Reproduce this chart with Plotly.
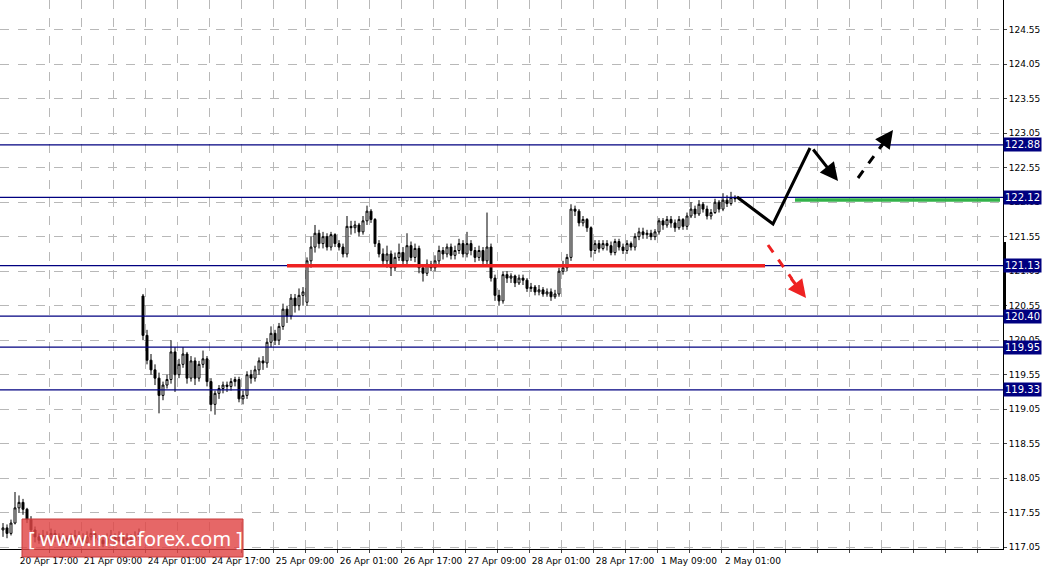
import plotly.graph_objects as go

# hourly bars, USD/JPY-like quotes
opens = [117.30,117.33,117.25,117.40,117.62,117.70,117.60,117.45,117.30,117.20,
         117.15,117.22,117.18,117.25,117.20,117.12,117.18,117.10,117.15,117.22,
         117.18,117.12,117.20,117.25,117.18,117.15,117.10,117.18,117.22,117.15,
         117.20,117.12,117.18,117.14,117.20,
         120.69,120.12,119.76,119.62,119.50,119.25,119.40,119.48,119.88,119.55,
         119.70,119.85,119.50,119.75,119.50,119.70,119.78,119.45,119.12,119.28,
         119.35,119.40,119.38,119.45,119.48,119.20,119.25,119.55,119.50,119.62,
         119.75,119.72,120.02,120.15,120.05,120.25,120.50,120.40,120.66,120.55,
         120.70,120.60,121.20,121.40,121.60,121.45,121.55,121.40,121.58,121.45,
         121.40,121.30,121.70,121.68,121.72,121.62,121.78,121.92,121.80,121.45,
         121.30,121.20,121.30,121.10,121.25,121.32,121.20,121.42,121.25,121.38,
         121.10,121.02,121.15,121.10,121.20,121.35,121.30,121.40,121.28,121.35,
         121.45,121.30,121.45,121.35,121.25,121.35,121.20,121.40,120.95,120.70,
         120.62,121.00,120.95,120.98,120.88,120.95,120.92,120.80,120.82,120.75,
         120.78,120.72,120.75,120.68,120.72,121.05,121.10,121.25,121.95,121.92,
         121.75,121.80,121.68,121.35,121.45,121.38,121.45,121.42,121.32,121.48,
         121.40,121.35,121.45,121.40,121.55,121.62,121.58,121.60,121.55,121.62,
         121.78,121.72,121.80,121.75,121.68,121.80,121.70,121.85,121.95,121.88,
         122.02,121.95,121.85,121.90,122.05,121.95,122.08,122.03,122.12]
closes = [117.33,117.25,117.40,117.62,117.70,117.60,117.45,117.30,117.20,117.15,
          117.22,117.18,117.25,117.20,117.12,117.18,117.10,117.15,117.22,117.18,
          117.12,117.20,117.25,117.18,117.15,117.10,117.18,117.22,117.15,117.20,
          117.12,117.18,117.14,117.20,117.25,
          120.12,119.76,119.62,119.50,119.25,119.40,119.48,119.88,119.55,119.70,
          119.85,119.50,119.75,119.50,119.70,119.78,119.45,119.12,119.28,119.35,
          119.40,119.38,119.45,119.48,119.20,119.25,119.55,119.50,119.62,119.75,
          119.72,120.02,120.15,120.05,120.25,120.50,120.40,120.66,120.55,120.70,
          120.75,121.20,121.40,121.60,121.45,121.55,121.40,121.58,121.45,121.40,
          121.30,121.70,121.68,121.72,121.62,121.78,121.92,121.80,121.45,121.30,
          121.20,121.30,121.10,121.25,121.32,121.20,121.42,121.25,121.38,121.10,
          121.02,121.15,121.10,121.20,121.35,121.30,121.40,121.28,121.35,121.45,
          121.30,121.45,121.35,121.25,121.35,121.20,121.40,120.95,120.70,120.62,
          121.00,120.95,120.98,120.88,120.95,120.92,120.80,120.82,120.75,120.78,
          120.72,120.75,120.68,120.72,121.05,121.10,121.25,121.95,121.92,121.75,
          121.80,121.68,121.35,121.45,121.38,121.45,121.42,121.32,121.48,121.40,
          121.35,121.45,121.40,121.55,121.62,121.58,121.60,121.55,121.62,121.78,
          121.72,121.80,121.75,121.68,121.80,121.70,121.85,121.95,121.88,122.02,
          121.95,121.85,121.90,122.05,121.95,122.08,122.03,122.12,122.10]
highs = [117.40,117.38,117.45,117.85,117.80,117.75,117.62,117.50,117.35,117.25,
         117.30,117.28,117.32,117.30,117.25,117.25,117.22,117.25,117.30,117.28,
         117.25,117.28,117.32,117.28,117.22,117.20,117.25,117.30,117.25,117.28,
         117.25,117.25,117.24,117.28,117.32,
         120.72,120.20,119.85,119.70,119.58,119.45,119.55,120.05,119.95,119.78,
         119.95,119.88,119.82,119.80,119.75,119.90,119.82,119.50,119.32,119.40,
         119.45,119.45,119.50,119.52,119.52,119.32,119.60,119.62,119.68,119.80,
         119.82,120.08,120.25,120.20,120.30,120.58,120.55,120.72,120.72,120.80,
         120.82,121.25,121.55,121.72,121.65,121.62,121.60,121.62,121.60,121.50,
         121.45,121.85,121.78,121.78,121.75,121.85,122.00,121.95,121.82,121.50,
         121.38,121.42,121.35,121.32,121.45,121.40,121.60,121.48,121.45,121.42,
         121.15,121.22,121.20,121.28,121.42,121.40,121.45,121.45,121.42,121.52,
         121.50,121.62,121.50,121.40,121.42,121.40,121.90,121.45,121.00,120.78,
         121.05,121.05,121.02,121.00,121.00,121.00,120.95,120.88,120.85,120.85,
         120.82,120.80,120.80,120.78,121.10,121.20,121.30,122.02,122.00,121.95,
         121.85,121.82,121.70,121.50,121.50,121.50,121.50,121.48,121.52,121.52,
         121.45,121.50,121.48,121.60,121.68,121.68,121.65,121.65,121.66,121.82,
         121.82,121.85,121.85,121.80,121.85,121.82,121.90,122.05,122.00,122.08,
         122.05,122.00,121.95,122.10,122.08,122.18,122.15,122.20,122.15]
lows = [117.20,117.18,117.22,117.38,117.55,117.52,117.40,117.25,117.12,117.10,
        117.12,117.12,117.15,117.12,117.08,117.10,117.05,117.08,117.12,117.12,
        117.08,117.10,117.15,117.12,117.10,117.05,117.08,117.15,117.10,117.12,
        117.08,117.10,117.08,117.12,117.15,
        120.05,119.70,119.55,119.40,118.99,119.18,119.35,119.42,119.30,119.50,
        119.65,119.42,119.45,119.40,119.45,119.65,119.38,119.02,118.97,119.20,
        119.28,119.30,119.32,119.38,119.15,119.12,119.20,119.42,119.45,119.55,
        119.62,119.65,119.95,119.98,119.98,120.20,120.30,120.35,120.45,120.48,
        120.55,120.55,121.10,121.32,121.38,121.38,121.35,121.35,121.40,121.35,
        121.25,121.25,121.58,121.60,121.55,121.58,121.72,121.75,121.40,121.25,
        121.12,121.10,120.98,121.05,121.20,121.12,121.15,121.20,121.18,121.02,
        120.90,120.98,121.05,121.05,121.15,121.22,121.25,121.22,121.22,121.30,
        121.25,121.25,121.28,121.18,121.20,121.12,121.15,120.90,120.62,120.55,
        120.58,120.88,120.88,120.82,120.85,120.85,120.75,120.75,120.70,120.70,
        120.68,120.68,120.62,120.65,120.68,121.00,121.05,121.20,121.85,121.70,
        121.70,121.62,121.25,121.30,121.32,121.35,121.35,121.28,121.28,121.35,
        121.30,121.30,121.35,121.35,121.50,121.52,121.52,121.50,121.50,121.58,
        121.65,121.68,121.68,121.62,121.65,121.65,121.65,121.82,121.82,121.85,
        121.90,121.80,121.80,121.88,121.90,121.92,121.98,122.00,122.05]

levels = [122.88, 122.12, 121.13, 120.40, 119.95, 119.33]
price_ticks = [117.05, 117.55, 118.05, 118.55, 119.05, 119.55, 120.05, 120.55,
               121.05, 121.55, 122.05, 122.55, 123.05, 123.55, 124.05, 124.55]
time_labels = ["20 Apr 17:00", "21 Apr 09:00", "24 Apr 01:00", "24 Apr 17:00",
               "25 Apr 09:00", "26 Apr 01:00", "26 Apr 17:00", "27 Apr 09:00",
               "28 Apr 01:00", "28 Apr 17:00", "1 May 09:00", "2 May 01:00",
               "", "", "", ""]

bars = list(range(len(closes)))

def px(x):  # screen pixel -> bar units
    return (x - 3) / 4.0

def py(y):  # screen pixel -> price
    return 121.55 - (y - 236.7) / 69.0

fig = go.Figure()
fig.add_trace(go.Candlestick(
    x=bars, open=opens, high=highs, low=lows, close=closes,
    increasing=dict(fillcolor="white", line=dict(color="black", width=1)),
    decreasing=dict(fillcolor="black", line=dict(color="black", width=1)),
    whiskerwidth=0, showlegend=False, hoverinfo="skip"))

shapes = []
for lv in levels:
    shapes.append(dict(type="line", xref="paper", x0=0, x1=1, y0=lv, y1=lv,
                       line=dict(color="#000080", width=1.2)))
shapes.append(dict(type="line", x0=px(287), x1=px(765), y0=121.13, y1=121.13,
                   line=dict(color="#ee2222", width=3.5)))
shapes.append(dict(type="line", x0=px(795), x1=px(1000), y0=py(200), y1=py(200),
                   line=dict(color="#33b24a", width=3.5)))
shapes.append(dict(type="path", path="M %f,%f L %f,%f L %f,%f" % (
    px(737), py(197), px(773), py(224), px(810), py(148)),
    line=dict(color="black", width=3)))
# dashed shafts
shapes.append(dict(type="line", x0=px(858), y0=py(178), x1=px(882), y1=py(145),
                   line=dict(color="black", width=3, dash="dash")))
shapes.append(dict(type="line", x0=px(768), y0=py(245), x1=px(792), y1=py(279),
                   line=dict(color="#ee2222", width=3, dash="dash")))
shapes.append(dict(type="rect", xref="paper", x0=1.0, x1=1.003, y0=py(312), y1=py(242),
                   fillcolor="black", line=dict(width=0)))
shapes.append(dict(type="rect", xref="paper", yref="paper",
                   x0=22/1003, x1=243/1003, y0=1-557/549, y1=1-519/549,
                   fillcolor="rgba(224,70,70,0.82)", line=dict(color="#c73a3a", width=1)))

anns = []
for lv in levels:
    anns.append(dict(xref="paper", x=1.0, y=lv, text="%.2f" % lv, showarrow=False,
                     xanchor="left", bgcolor="#000080", borderpad=1,
                     font=dict(color="white", size=10, family="DejaVu Sans")))
# arrows
for (x0, y0, x1, y1, col) in [(812, 148, 838, 181, "black"),
                              (880, 148, 893, 130, "black"),
                              (790, 277, 806, 298, "#ee2222")]:
    anns.append(dict(x=px(x1), y=py(y1), ax=px(x0), ay=py(y0), xref="x", yref="y",
                     axref="x", ayref="y", text="", showarrow=True, arrowhead=2,
                     arrowsize=1.2, arrowwidth=3, arrowcolor=col))
anns.append(dict(xref="paper", yref="paper", x=26/1003, y=1-538/549,
                 xanchor="left", yanchor="middle",
                 text="[ www.instaforex.com ]", showarrow=False,
                 font=dict(color="white", size=20, family="Noto Sans")))

fig.update_layout(
    width=1047, height=571, margin=dict(l=0, r=44, t=0, b=22, autoexpand=False),
    paper_bgcolor="white", plot_bgcolor="white",
    shapes=shapes, annotations=anns,
    xaxis=dict(range=[px(0), px(1003)], rangeslider=dict(visible=False),
               tickvals=[px(49 + 32 * k) for k in range(31)],
               ticktext=[time_labels[k // 2] if k % 2 == 0 else "" for k in range(31)],
               tickangle=0, automargin=False,
               showgrid=True, gridcolor="#b8b8b8", griddash="dash", gridwidth=1,
               showline=True, linecolor="black", ticks="outside", ticklen=3,
               tickfont=dict(size=9, family="DejaVu Sans", color="black"),
               zeroline=False),
    yaxis=dict(range=[py(549), py(0)], side="right", tickvals=price_ticks,
               ticktext=["%.2f" % t for t in price_ticks], automargin=False,
               showgrid=True, gridcolor="#b8b8b8", griddash="dash", gridwidth=1,
               showline=True, linecolor="black", ticks="outside", ticklen=3,
               tickfont=dict(size=9, family="DejaVu Sans", color="black"),
               zeroline=False),
)

fig.write_html("out.html", config={"displayModeBar": False},
               post_script="document.body.style.margin='0';")
